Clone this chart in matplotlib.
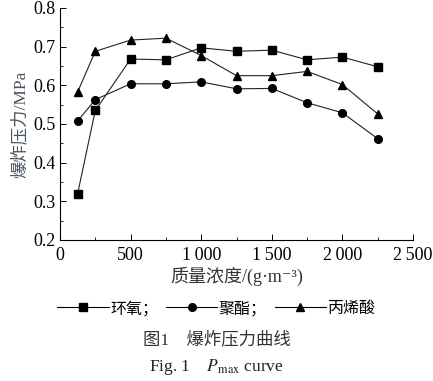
import matplotlib
matplotlib.use("Agg")
import matplotlib.pyplot as plt
from matplotlib.ticker import MultipleLocator, FixedLocator, FixedFormatter
from matplotlib.lines import Line2D

plt.rcParams['font.family'] = ['Liberation Serif', 'Noto Sans CJK SC', 'DejaVu Serif']
plt.rcParams['mathtext.fontset'] = 'stix'

conc = [125, 250, 500, 750, 1000, 1250, 1500, 1750, 2000, 2250]
epoxy = [0.32, 0.535, 0.668, 0.666, 0.697, 0.688, 0.691, 0.666, 0.673, 0.648]
polyester = [0.508, 0.563, 0.604, 0.604, 0.609, 0.591, 0.592, 0.555, 0.529, 0.462]
acrylic = [0.583, 0.688, 0.717, 0.722, 0.677, 0.625, 0.625, 0.636, 0.602, 0.526]
series_names = ['环氧', '聚酯', '丙烯酸']
xticks = [0, 500, 1000, 1500, 2000, 2500]
xticklabels = ['0', '500', '1\u2009000', '1\u2009500', '2\u2009000', '2\u2009500']
yticks = [0.2, 0.3, 0.4, 0.5, 0.6, 0.7, 0.8]

fig = plt.figure(figsize=(4.33, 3.81), dpi=100)
ax = fig.add_axes([60/433, 1-240/381, 353/433, 232/381])

markers = ['s', 'o', '^']
for vals, m in zip([epoxy, polyester, acrylic], markers):
    ax.plot(conc, vals, color='#222222', lw=0.8, marker=m, markersize=5.5,
            markerfacecolor='black', markeredgecolor='black')

ax.set_xlim(0, 2500)
ax.set_ylim(0.2, 0.8)
ax.xaxis.set_major_locator(FixedLocator(xticks))
ax.xaxis.set_major_formatter(FixedFormatter(xticklabels))
ax.xaxis.set_minor_locator(MultipleLocator(250))
ax.yaxis.set_major_locator(FixedLocator(yticks))
ax.yaxis.set_minor_locator(MultipleLocator(0.05))
ax.tick_params(direction='in', which='major', length=4, width=0.7, labelsize=13)
ax.tick_params(direction='in', which='minor', length=2.5, width=0.6)
ax.tick_params(axis='x', pad=5)
for s in ['top', 'right']:
    ax.spines[s].set_visible(False)
for s in ['left', 'bottom']:
    ax.spines[s].set_linewidth(0.8)

ax.set_ylabel('爆炸压力/MPa', fontsize=12.5, color='#4a5560', labelpad=3)
ax.set_xlabel('质量浓度/(g·m\u207b\u00b3)', fontsize=13, color='#333333', labelpad=2)

handles = [Line2D([], [], color='black', lw=0.8, marker=m, markersize=5.5) for m in markers]
labels = [series_names[0] + '；', series_names[1] + '；', series_names[2]]
fig.legend(handles, labels, loc='center', bbox_to_anchor=(0.5, 1-309/381), ncol=3,
           frameon=False, fontsize=11.5, handlelength=3.2, handletextpad=0.1,
           columnspacing=0.5)

fig.text(0.5, 1-340/381, '图1　爆炸压力曲线', ha='center', va='center', fontsize=12.5,
         color='#333333')
fig.text(0.5, 1-367/381, 'Fig. 1    $P_{\\mathrm{max}}$ curve', ha='center', va='center',
         fontsize=12.5, color='#222222')

fig.savefig('out.png', dpi=100)
